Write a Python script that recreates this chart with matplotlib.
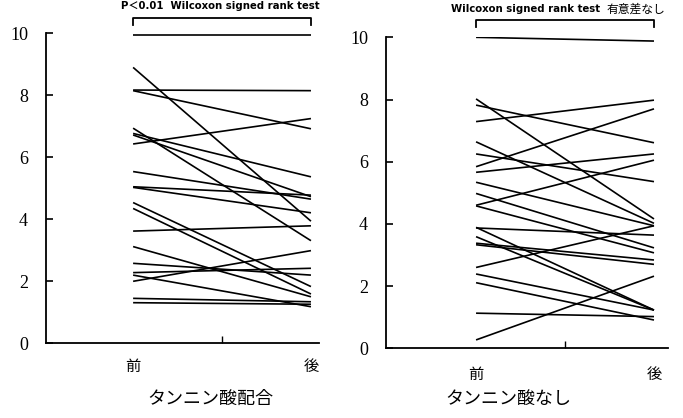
import matplotlib
matplotlib.use("Agg")
import matplotlib.pyplot as plt

# values (before -> after)
left_before = [9.96, 8.9, 8.17, 8.15, 6.94, 6.77, 6.72, 6.43, 5.54, 5.05, 5.03,
               4.54, 4.35, 3.62, 3.12, 2.58, 2.28, 2.2, 2.0, 1.45, 1.31]
left_after = [9.96, 3.94, 8.15, 6.92, 3.31, 5.37, 4.73, 7.25, 4.65, 4.78, 4.21,
              1.83, 1.59, 3.79, 1.5, 2.2, 2.42, 1.18, 2.99, 1.34, 1.26]

right_before = [10.0, 8.02, 7.82, 7.29, 6.64, 6.25, 5.84, 5.66, 5.34, 4.98, 4.6,
                4.58, 3.89, 3.87, 3.59, 3.38, 3.33, 2.6, 2.39, 2.11, 1.13, 0.27]
right_after = [9.88, 4.16, 6.61, 7.98, 4.02, 5.36, 7.7, 6.25, 3.94, 3.23, 6.05,
               3.07, 1.23, 3.64, 1.23, 2.84, 2.7, 3.94, 1.23, 0.91, 1.02, 2.32]

time_labels = ['前', '後']
y_ticks = [0, 2, 4, 6, 8, 10]
group_titles = ['タンニン酸配合', 'タンニン酸なし']
test_left = 'P＜0.01  Wilcoxon signed rank test'
test_right = 'Wilcoxon signed rank test'
note_right = '有意差なし'

plt.rcParams['font.family'] = 'serif'
plt.rcParams['font.serif'] = ['Liberation Serif', 'DejaVu Serif']
CJK = ['Noto Sans CJK JP', 'DejaVu Sans']
BOLD = ['DejaVu Sans', 'Noto Sans CJK JP']


def draw_panel(ax, before, after, xlim, br_y, label_off):
    for b, a in zip(before, after):
        ax.plot([0, 1], [b, a], color='black', lw=1.2, solid_capstyle='butt')
    ax.set_xlim(*xlim)
    ax.set_ylim(0, 10)
    ax.spines['top'].set_visible(False)
    ax.spines['right'].set_visible(False)
    for s in ['left', 'bottom']:
        ax.spines[s].set_linewidth(1.3)
    ax.set_yticks(y_ticks)
    ax.tick_params(axis='y', direction='in', length=5, width=1.2, pad=13,
                   labelsize=13)
    # a single tick at the centre of the x axis, labels at the two groups
    ax.set_xticks([0.5])
    ax.set_xticklabels([''])
    ax.tick_params(axis='x', direction='in', length=5, width=1.0)
    for i, lab in enumerate(time_labels):
        ax.annotate(lab, xy=(i, 0), xycoords=('data', 'axes fraction'),
                    xytext=(0, label_off), textcoords='offset points',
                    ha='center', va='center', fontsize=11, family=CJK)
    # significance bracket
    tr = ax.get_xaxis_transform()
    ax.plot([0, 0, 1, 1], [br_y - 0.022, br_y, br_y, br_y - 0.022],
            color='black', lw=1.3, transform=tr, clip_on=False)


fig = plt.figure(figsize=(6.83, 4.18), dpi=100)
ax1 = fig.add_axes([0.0673, 0.1787, 0.3997, 0.7416])
ax2 = fig.add_axes([0.5652, 0.1667, 0.4129, 0.744])

draw_panel(ax1, left_before, left_after, (-0.49, 1.045), 1.049, -17)
draw_panel(ax2, right_before, right_after, (-0.506, 1.079), 1.055, -19)

ax1.text(0.49, 1.088, test_left, transform=ax1.get_xaxis_transform(),
         ha='center', va='center', fontsize=7.3, fontweight='bold', family=BOLD)
ax2.text(0.28, 1.091, test_right, transform=ax2.get_xaxis_transform(),
         ha='center', va='center', fontsize=7.3, fontweight='bold', family=BOLD)
ax2.text(0.736, 1.091, note_right, transform=ax2.get_xaxis_transform(),
         ha='left', va='center', fontsize=8.5, family=CJK)

fig.text(210 / 683, 0.045, group_titles[0], ha='center', va='center',
         fontsize=13, family=CJK)
fig.text(508 / 683, 0.045, group_titles[1], ha='center', va='center',
         fontsize=13, family=CJK)

fig.savefig('out.png', dpi=100)
